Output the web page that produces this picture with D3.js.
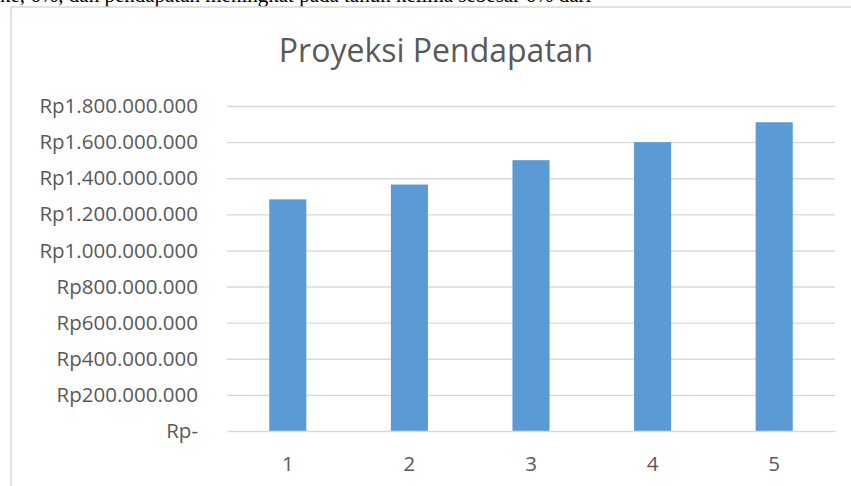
<!DOCTYPE html>
<html>
<head>
<meta charset="utf-8">
<script src="https://cdn.jsdelivr.net/npm/d3@7"></script>
<style>
  body { margin: 0; background: #fff; }
  svg { display: block; font-family: "Open Sans", sans-serif; }
</style>
</head>
<body>
<svg id="chart" width="851" height="486"></svg>
<script>
// Proyeksi Pendapatan - bar chart

const years = ["1", "2", "3", "4", "5"];
const revenue = [1283000000, 1365000000, 1500000000, 1600000000, 1710000000];
const yTicks = [0, 200000000, 400000000, 600000000, 800000000, 1000000000,
  1200000000, 1400000000, 1600000000, 1800000000];
const title = "Proyeksi Pendapatan";
const pageText = "ke, 6%, dan pendapatan meningkat pada tahun kelima sebesar 6% dari";

const svg = d3.select("#chart");
const plot = {left: 227, right: 835, top: 106, bottom: 431};

const idr = d3.formatLocale({decimal: ",", thousands: ".", grouping: [3], currency: ["Rp", ""]});
const fmt = v => v === 0 ? "Rp-" : "Rp" + idr.format(",")(v);

// bit of the document text cut off above the chart
svg.append("text")
  .attr("x", 0).attr("y", 1.5)
  .attr("font-family", "Liberation Serif, serif")
  .attr("font-size", 21)
  .attr("fill", "#000")
  .text(pageText);

// chart frame (only top and left edges visible)
svg.append("path")
  .attr("d", "M11,486 V7 H851")
  .attr("fill", "none")
  .attr("stroke", "#d9d9d9")
  .attr("stroke-width", 1.5);

const x = d3.scaleBand().domain(years).range([plot.left, plot.right]).padding(0);
const y = d3.scaleLinear().domain([0, 1800000000]).range([plot.bottom, plot.top]);

// gridlines
svg.append("g")
  .attr("transform", `translate(${plot.left},0)`)
  .call(d3.axisLeft(y).tickValues(yTicks.slice(1)).tickSize(-(plot.right - plot.left)).tickFormat(""))
  .call(g => g.select(".domain").remove())
  .call(g => g.selectAll("line").attr("stroke", "#d9d9d9").attr("stroke-width", 1.4));

// y labels
svg.append("g")
  .attr("transform", `translate(${plot.left},0)`)
  .call(d3.axisLeft(y).tickValues(yTicks).tickSize(0).tickPadding(29).tickFormat(fmt))
  .call(g => g.select(".domain").remove())
  .call(g => g.selectAll("text")
    .attr("font-family", "Open Sans, sans-serif")
    .attr("font-size", 20.5)
    .attr("fill", "#595959"));

// bars
const bw = x.bandwidth() * 0.305;
svg.append("g")
  .selectAll("rect")
  .data(revenue)
  .enter()
  .append("rect")
  .attr("x", (d, i) => x(years[i]) + (x.bandwidth() - bw) / 2)
  .attr("y", d => y(d))
  .attr("width", bw)
  .attr("height", d => y(0) - y(d))
  .attr("fill", "#5b9bd5");

// x axis
svg.append("g")
  .attr("transform", `translate(0,${plot.bottom})`)
  .call(d3.axisBottom(x).tickSize(0).tickPadding(25))
  .call(g => g.select(".domain").attr("stroke", "#d9d9d9").attr("stroke-width", 1.5))
  .call(g => g.selectAll("text")
    .attr("font-family", "Open Sans, sans-serif")
    .attr("font-size", 20.5)
    .attr("fill", "#595959"));

// title
svg.append("text")
  .attr("x", 436)
  .attr("y", 62)
  .attr("text-anchor", "middle")
  .attr("font-size", 32)
  .attr("fill", "#595959")
  .text(title);
</script>
</body>
</html>
